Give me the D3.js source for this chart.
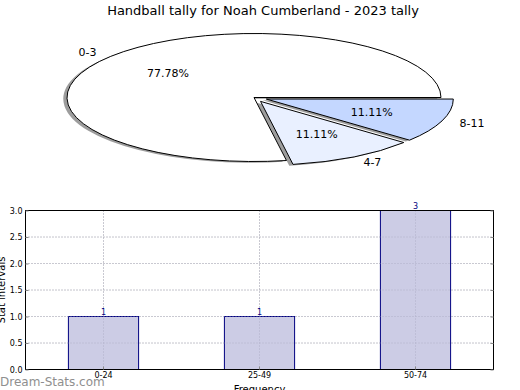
<!DOCTYPE html>
<html><head><meta charset="utf-8">
<script src="https://cdn.jsdelivr.net/npm/d3@7"></script>
<style>body{margin:0;background:#fff}svg{display:block;font-family:"DejaVu Sans",sans-serif}</style>
</head><body>
<svg id="c" width="520" height="390"></svg>
<script>
const title = "Handball tally for Noah Cumberland - 2023 tally";
const pieLabels = ["0-3", "4-7", "8-11"];
const pieValues = [7, 1, 1];
const pieColors = ["#ffffff", "#e9f0ff", "#c4d7ff"];
const pieExplode = [0, 0.07, 0.07];

const barCats = ["0-24", "25-49", "50-74"];
const barValues = [1, 1, 3];
const yTicks = [0, 0.5, 1, 1.5, 2, 2.5, 3];

const svg = d3.select("#c");

svg.append("text").attr("x", 263).attr("y", 15).attr("text-anchor", "middle")
  .attr("font-size", 13).text(title);

// ---- Pie ----
const cx = 254, cy = 97.5, rx = 187, ry = 64, R = 100;
const pie = d3.pie().sort(null).value(d => d).startAngle(Math.PI * 2.5).endAngle(Math.PI * 0.5);
const arcs = pie(pieValues);
const arc = d3.arc().innerRadius(0).outerRadius(R);
const g = svg.append("g").attr("transform", `translate(${cx},${cy}) scale(${rx / R},${ry / R})`);
const total = d3.sum(pieValues);
function off(d, k) {
  const a = (d.startAngle + d.endAngle) / 2;
  return [Math.sin(a) * R * k, -Math.cos(a) * R * k];
}
arcs.forEach((d, i) => {
  const o = off(d, pieExplode[i]);
  g.append("path").attr("d", arc(d))
    .attr("transform", `translate(${o[0] - 2},${o[1] + 2})`)
    .attr("fill", "#8c8c8c").attr("opacity", 0.85);
});
arcs.forEach((d, i) => {
  const o = off(d, pieExplode[i]);
  g.append("path").attr("d", arc(d))
    .attr("transform", `translate(${o[0]},${o[1]})`)
    .attr("fill", pieColors[i]).attr("stroke", "#000").attr("stroke-width", 1)
    .attr("vector-effect", "non-scaling-stroke").attr("stroke-linejoin", "round");
});
arcs.forEach((d, i) => {
  const a = (d.startAngle + d.endAngle) / 2;
  const e = pieExplode[i];
  const sx = Math.sin(a), sy = -Math.cos(a);
  const px = cx + sx * rx * (0.6 + e), py = cy + sy * ry * (0.6 + e);
  svg.append("text").attr("x", px).attr("y", py).attr("dy", "0.35em")
    .attr("text-anchor", "middle").attr("font-size", 11)
    .text((pieValues[i] / total * 100).toFixed(2) + "%");
  const lx = cx + sx * rx * (1.1 + e), ly = cy + sy * ry * (1.1 + e);
  svg.append("text").attr("x", lx).attr("y", ly).attr("dy", "0.35em")
    .attr("text-anchor", sx > 0 ? "start" : "end").attr("font-size", 11)
    .text(pieLabels[i]);
});

// ---- Bars ----
const L = 25.5, Rr = 493.5, T = 210.5, B = 369.5;
const x = d3.scaleBand().domain(barCats).range([L, Rr]).padding(0);
const y = d3.scaleLinear().domain([0, 3]).range([B, T]);
const bw = x.bandwidth() * 0.45;
const grid = svg.append("g").attr("stroke", "#b8b8b8").attr("stroke-dasharray", "1,2").attr("stroke-width", 1);
yTicks.forEach(t => grid.append("line").attr("x1", L).attr("x2", Rr).attr("y1", y(t)).attr("y2", y(t)));
barCats.forEach(c => grid.append("line").attr("x1", x(c) + x.bandwidth() / 2).attr("x2", x(c) + x.bandwidth() / 2).attr("y1", T).attr("y2", B));

svg.append("g").selectAll("rect").data(barValues).join("rect")
  .attr("x", (d, i) => x(barCats[i]) + (x.bandwidth() - bw) / 2)
  .attr("y", d => y(d)).attr("width", bw).attr("height", d => B - y(d))
  .attr("fill", "#cccce5").attr("stroke", "#000080").attr("stroke-width", 1);

svg.append("g").selectAll("text").data(barValues).join("text")
  .attr("x", (d, i) => x(barCats[i]) + x.bandwidth() / 2)
  .attr("y", d => y(d) - 1.5).attr("text-anchor", "middle")
  .attr("font-size", 8).attr("fill", "#000080").text(d => d);

const grid2 = svg.append("g").attr("stroke", "#a0a0b8").attr("stroke-dasharray", "1,2").attr("stroke-width", 1).attr("opacity", 0.6);
yTicks.forEach(t => grid2.append("line").attr("x1", L).attr("x2", Rr).attr("y1", y(t)).attr("y2", y(t)));
barCats.forEach(c => grid2.append("line").attr("x1", x(c) + x.bandwidth() / 2).attr("x2", x(c) + x.bandwidth() / 2).attr("y1", T).attr("y2", B));

svg.append("rect").attr("x", L).attr("y", T).attr("width", Rr - L).attr("height", B - T)
  .attr("fill", "none").attr("stroke", "#000").attr("stroke-width", 1);

const yAxisL = svg.append("g").attr("transform", `translate(${L},0)`)
  .call(d3.axisLeft(y).tickValues(yTicks).tickFormat(d3.format(".1f")).tickSize(-3).tickPadding(3));
const yAxisR = svg.append("g").attr("transform", `translate(${Rr},0)`)
  .call(d3.axisRight(y).tickValues(yTicks).tickSize(-3).tickFormat(""));
const xAxis = svg.append("g").attr("transform", `translate(0,${B})`)
  .call(d3.axisBottom(x).tickSize(-3).tickPadding(3));
[yAxisL, yAxisR, xAxis].forEach(a => {
  a.select(".domain").remove();
  a.selectAll("line").attr("stroke", "#888");
  a.selectAll("text").attr("font-size", 8).attr("font-family", "DejaVu Sans").attr("fill", "#000");
});

svg.append("text").attr("transform", `translate(5,${(T + B) / 2}) rotate(-90)`)
  .attr("text-anchor", "middle").attr("font-size", 10).text("Stat intervals");
svg.append("text").attr("x", (L + Rr) / 2).attr("y", 393).attr("text-anchor", "middle")
  .attr("font-size", 10).text("Frequency");

svg.append("text").attr("x", 0).attr("y", 386).attr("font-size", 12)
  .attr("fill", "#8f8f8f").text("Dream-Stats.com");
</script>
</body></html>
